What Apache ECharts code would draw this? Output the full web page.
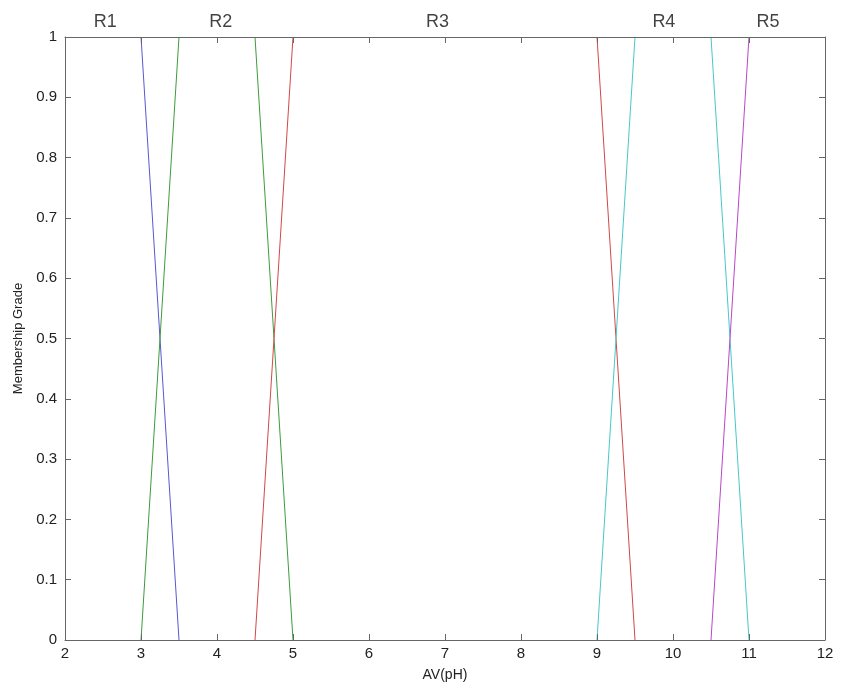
<!DOCTYPE html>
<html><head><meta charset="utf-8">
<script src="https://cdn.jsdelivr.net/npm/echarts@6/dist/echarts.min.js"></script>
<style>html,body{margin:0;padding:0;background:#fff}#c{width:842px;height:689px}</style>
</head><body><div id="c"></div>
<script>
const xTicks = [2,3,4,5,6,7,8,9,10,11,12];
const yTicks = [0,0.1,0.2,0.3,0.4,0.5,0.6,0.7,0.8,0.9,1];
// sloped edges of each membership function (plateaus at 1 lie on the top border)
const R1 = [[3,1],[3.5,0]];
const R2 = [[3,0],[3.5,1],null,[4.5,1],[5,0]];
const R3 = [[4.5,0],[5,1],null,[9,1],[9.5,0]];
const R4 = [[9,0],[9.5,1],null,[10.5,1],[11,0]];
const R5 = [[10.5,0],[11,1]];
const regionNames = ['R1','R2','R3','R4','R5'];
const regionLabelX = [2.53,4.05,6.9,9.88,11.25];
const colors = ['#5858d0','#3c9c3c','#d04848','#48c8c8','#b848c8'];

const chart = echarts.init(document.getElementById('c'));
const axisCol = '#666';
const txt = '#222';
const fontFam = 'Liberation Sans, Arial, sans-serif';
function xa(show, pos){
  return {type:'value', min:2, max:12, interval:1, position:pos, z:10,
    axisLine:{show:true, onZero:false, lineStyle:{color:axisCol, width:1}},
    axisTick:{show:true, inside:true, length:6, lineStyle:{color:axisCol}},
    axisLabel:{show:show, color:txt, fontSize:15, fontFamily:fontFam, margin:6},
    splitLine:{show:false},
    name: show ? 'AV(pH)' : '', nameLocation:'middle', nameGap:28,
    nameTextStyle:{color:txt, fontSize:14, fontFamily:fontFam}};
}
function ya(show, pos){
  return {type:'value', min:0, max:1, interval:0.1, position:pos, z:10,
    axisLine:{show:true, onZero:false, lineStyle:{color:axisCol, width:1}},
    axisTick:{show:true, inside:true, length:6, lineStyle:{color:axisCol}},
    axisLabel:{show:show, color:txt, fontSize:15, fontFamily:fontFam, margin:8},
    splitLine:{show:false},
    name: show ? 'Membership Grade' : '', nameLocation:'middle', nameGap:38,
    nameTextStyle:{color:txt, fontSize:13, fontFamily:fontFam}};
}
const data = [R1,R2,R3,R4,R5];
const series = data.map((d,i)=>({type:'line', data:d, connectNulls:false, xAxisIndex:0, yAxisIndex:0, symbol:'none',
  lineStyle:{color:colors[i], width:1}, itemStyle:{color:colors[i]}, animation:false, z:2}));
series.push({type:'scatter', symbolSize:0, clip:false, xAxisIndex:0, yAxisIndex:0, animation:false,
  data: regionNames.map((n,i)=>({value:[regionLabelX[i],1], name:n})),
  label:{show:true, position:'top', distance:6, formatter:p=>p.name, color:'#111', fontSize:18, fontFamily:fontFam}});
chart.setOption({
  backgroundColor:'#fff',
  animation:false,
  grid:{left:65, right:17, top:37, bottom:49},
  xAxis:[xa(true,'bottom'), xa(false,'top')],
  yAxis:[ya(true,'left'), ya(false,'right')],
  series: series
});
</script></body></html>
